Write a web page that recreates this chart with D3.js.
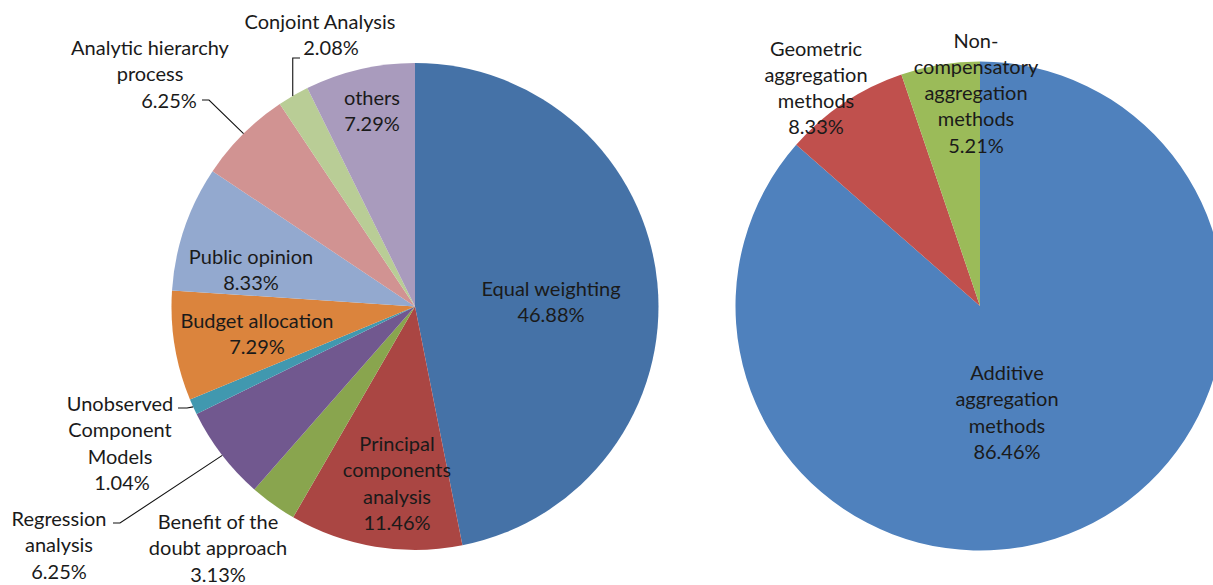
<!DOCTYPE html>
<html>
<head>
<meta charset="utf-8">
<script src="https://cdn.jsdelivr.net/npm/d3@7"></script>
<style>
  html, body { margin: 0; padding: 0; background: #ffffff; }
  svg { display: block; }
  text { font-family: "Lato", "Liberation Sans", sans-serif; font-size: 20px; fill: #1a1a1a; }
</style>
</head>
<body>
<svg id="chart" width="1213" height="585"></svg>
<script>
// ---- data ----
const leftCategories = ["Equal weighting", "Principal components analysis", "Benefit of the doubt approach",
  "Regression analysis", "Unobserved Component Models", "Budget allocation", "Public opinion",
  "Analytic hierarchy process", "Conjoint Analysis", "others"];
const leftValues = [46.88, 11.46, 3.13, 6.25, 1.04, 7.29, 8.33, 6.25, 2.08, 7.29];
const leftLabelLines = [["Equal weighting"], ["Principal", "components", "analysis"], ["Benefit of the", "doubt approach"],
  ["Regression", "analysis"], ["Unobserved", "Component", "Models"], ["Budget allocation"], ["Public opinion"],
  ["Analytic hierarchy", "process"], ["Conjoint Analysis"], ["others"]];

const rightCategories = ["Additive aggregation methods", "Geometric aggregation methods", "Non-compensatory aggregation methods"];
const rightValues = [86.46, 8.33, 5.21];
const rightLabelLines = [["Additive", "aggregation", "methods"], ["Geometric", "aggregation", "methods"], ["Non-", "compensatory", "aggregation", "methods"]];

// ---- styles / layout ----
const leftColors = ["#4572A7", "#AA4643", "#89A54E", "#71588F", "#4198AF", "#DB843D", "#93A9CF", "#D19392", "#B9CD96", "#A99BBD"];
const rightColors = ["#4F81BD", "#C0504D", "#9BBB59"];

const lineH = 26.3;
// label anchor offsets relative to pie centre (x centre, y of first line centre), plus shift of % line
const leftLabelPos = [[136, -18.5, 0], [-18, 136.5, 0], [-197, 214.5, 0], [-356, 211.5, 0], [-295, 96.5, 2],
  [-158, 13.5, 0], [-164, -50.5, 0], [-265, -259.5, 19], [-95, -285.5, 11], [-43, -209.5, 0]];
const rightLabelPos = [[27, 66, 0], [-164, -258.5, 0], [-4, -266.5, 0]];

const svg = d3.select("#chart");
const pie = d3.pie().sort(null).value(d => d.value).startAngle(0).endAngle(2 * Math.PI);
const fmt = d3.format(".2f");

function drawPie(cx, cy, r, cats, vals, colors, lines, pos) {
  const data = cats.map((c, i) => ({ name: c, value: vals[i], color: colors[i], lines: lines[i], pos: pos[i] }));
  const arcs = pie(data);
  const arc = d3.arc().innerRadius(0).outerRadius(r);
  const g = svg.append("g").attr("transform", `translate(${cx},${cy})`);
  g.selectAll("path.slice").data(arcs).join("path")
    .attr("class", "slice")
    .attr("d", arc)
    .attr("fill", d => d.data.color);
  const lg = g.selectAll("g.lbl").data(arcs).join("g").attr("class", "lbl");
  lg.each(function (d) {
    const el = d3.select(this);
    const [x, y, pshift] = d.data.pos;
    const all = d.data.lines.concat([fmt(d.data.value) + "%"]);
    all.forEach((t, k) => {
      el.append("text")
        .attr("x", x + (k === all.length - 1 ? pshift : 0))
        .attr("y", y + k * lineH)
        .attr("text-anchor", "middle")
        .attr("dominant-baseline", "central")
        .text(t);
    });
  });
  return { g, arcs, arc, r };
}

const L = drawPie(415, 306.5, 243.5, leftCategories, leftValues, leftColors, leftLabelLines, leftLabelPos);
const R = drawPie(980, 306, 244.5, rightCategories, rightValues, rightColors, rightLabelLines, rightLabelPos);

// leader lines for outside labels (left pie): label-side stub, then to a point on the slice edge
function edgePoint(a, r, frac) {
  const ang = a.startAngle + (a.endAngle - a.startAngle) * frac;
  return [Math.sin(ang) * r, -Math.cos(ang) * r];
}
const leaderDefs = [
  // [slice index, stub start, stub end x, fraction along arc, vertical?]
  [3, [-302, 216.5], -295, 0.49, false],
  [4, [-237, 101.5], -228, 0.5, false],
  [7, [-213, -206.5], -206, 0.51, false],
  [8, [-115, -248.5], null, 0.48, true]
];
leaderDefs.forEach(([i, s, sx2, frac, vertical]) => {
  const p = edgePoint(L.arcs[i], L.r, frac);
  const pts = vertical ? [s, [p[0], s[1]], p] : [s, [sx2, s[1]], p];
  L.g.append("path")
    .attr("d", d3.line()(pts))
    .attr("fill", "none")
    .attr("stroke", "#111")
    .attr("stroke-width", 1.1);
});
</script>
</body>
</html>
